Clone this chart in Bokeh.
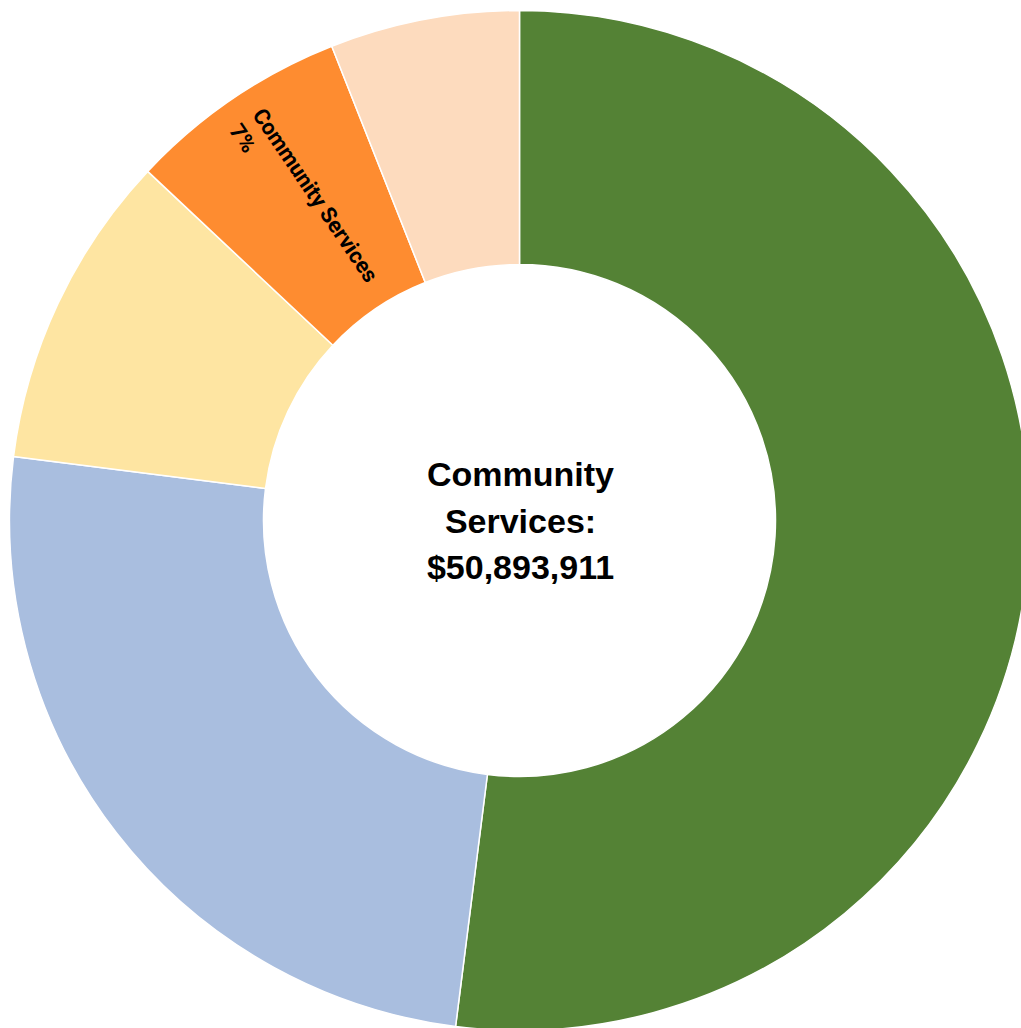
import math
from bokeh.plotting import figure
from bokeh.models import Range1d, ColumnDataSource
from bokeh.core.properties import value
from bokeh.embed import file_html
from bokeh.resources import INLINE

# ---- data ----
shares = [52, 25, 10, 7, 6]            # percent, clockwise from 12 o'clock
slice_colors = ["#548235", "#A9BEDF", "#FEE5A2", "#FE8C30", "#FDDBBE"]
label_index = 3
label_name = "Community Services"
label_pct = "7%"
center_lines = ["Community", "Services:", "$50,893,911"]

# ---- layout ----
W, H = 1021, 1028
cx, cy = 519, H - 520
r_out, r_in = 510, 256

total = float(sum(shares))
starts, ends = [], []
cum = 0.0
for s in shares:
    starts.append(math.pi / 2 - 2 * math.pi * cum / total)
    cum += s
    ends.append(math.pi / 2 - 2 * math.pi * cum / total)

src = ColumnDataSource(dict(x=[cx] * len(shares), y=[cy] * len(shares),
                            start=starts, end=ends, color=slice_colors))

p = figure(width=W, height=H, x_range=Range1d(0, W), y_range=Range1d(0, H),
           output_backend="svg", toolbar_location=None, min_border=0,
           outline_line_color=None, background_fill_color="white")
p.axis.visible = False
p.grid.visible = False

p.annular_wedge(x="x", y="y", inner_radius=r_in, outer_radius=r_out,
                start_angle="start", end_angle="end", direction="clock",
                fill_color="color", line_color="white", line_width=1.5,
                source=src)

# label inside the highlighted slice, running radially inward
mid = (starts[label_index] + ends[label_index]) / 2
inward = mid + math.pi
r_lab = 486
bx = cx + r_lab * math.cos(mid)
by = cy + r_lab * math.sin(mid)
ux, uy = math.cos(inward + math.pi / 2), math.sin(inward + math.pi / 2)
gap = 14
for txt, sgn in ((label_name, 1), (label_pct, -1)):
    p.text(x=[bx + sgn * gap * ux], y=[by + sgn * gap * uy], text=[txt],
           angle=inward, text_align="left", text_baseline="middle",
           text_font=value("Roboto"), text_font_size="22px",
           text_font_style="bold", text_color="black")

# center text
offs = [46.5, 0, -46.5]
for line, off in zip(center_lines, offs):
    p.text(x=[cx + 1], y=[cy + off], text=[line], text_align="center",
           text_baseline="middle", text_font=value("Liberation Sans"),
           text_font_size="34px", text_font_style="bold", text_color="black")

open("out.html", "w").write(file_html(p, INLINE))
